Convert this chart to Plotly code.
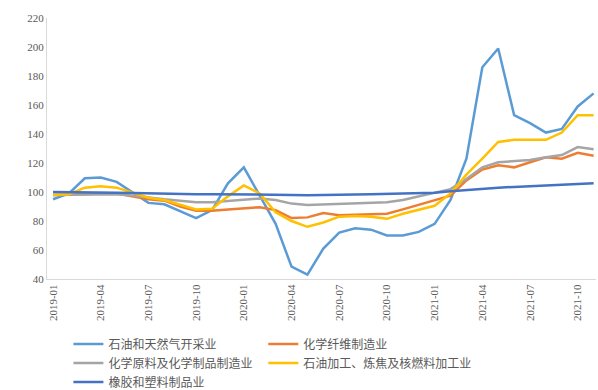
import plotly.graph_objects as go

months = [f"{y}-{m:02d}" for y in (2019, 2020, 2021) for m in range(1, 13)][:35]
tick_labels = [months[i] for i in range(0, 35, 3)]

names = ["石油和天然气开采业", "化学纤维制造业", "化学原料及化学制品制造业",
         "石油加工、炼焦及核燃料加工业", "橡胶和塑料制品业"]

oil = [95, 99, 109.5, 110, 107, 100, 92.5, 91.5, 87, 82, 87.5, 106, 117, 98, 78,
       48.5, 43, 61, 72, 75, 74, 70, 70, 72.5, 78, 94.5, 123, 186, 199, 153, 147.5,
       141, 143.5, 159, 168]
fiber = [98, 98.5, 99, 99, 99, 97, 95, 94, 90, 87, 87, 88, 89, 89.5, 87.5, 82, 82.5,
         85.5, 84, 84.5, 85, 85, 88, 91, 94, 97.5, 108, 115.5, 118.5, 117, 120.5, 124,
         123, 127, 125]
chem = [98, 98, 98, 98.5, 98.5, 97.5, 96, 95, 94, 93, 93, 94, 95, 95.5, 94.5, 92, 91,
        91.5, 92, 92.5, 92.5, 93, 94.5, 97, 99.5, 102, 109, 117, 120.5, 121, 122, 124,
        125.5, 131, 129.5]
refine = [98, 98.5, 103, 104, 103, 99.5, 96, 94.5, 91, 88, 88.5, 97, 104.5, 99, 86,
          80, 76, 79, 83, 83.5, 83, 81.5, 85, 87.5, 90.5, 99, 112, 123, 134.5, 136,
          136, 136, 141, 153, 153]
rubber = [100, 100, 99.8, 99.6, 99.5, 99.3, 99, 99, 98.8, 98.5, 98.5, 98.5, 98.5, 98.5,
          98.3, 98, 97.8, 97.8, 98.2, 98.3, 98.4, 98.6, 98.8, 99.1, 99.5, 100.5, 101.5,
          102.5, 103, 103.5, 104, 104, 104.5, 105.5, 106]

series = [oil, fiber, chem, refine, rubber]
colors = ["#5B9BD5", "#ED7D31", "#A5A5A5", "#FFC000", "#4472C4"]
legend_ids = ["legend", "legend2", "legend", "legend2", "legend"]

fig = go.Figure()
for name, vals, col, lg in zip(names, series, colors, legend_ids):
    fig.add_trace(go.Scatter(x=months, y=vals, name=name, mode="lines",
                             line=dict(color=col, width=2.5), legend=lg))

legend_font = dict(family="Noto Sans CJK SC", size=12, color="#595959")
fig.update_layout(
    width=598, height=390,
    margin=dict(l=47, r=2, t=18, b=111),
    paper_bgcolor="white", plot_bgcolor="white",
    font=dict(family="Liberation Serif, Noto Sans CJK SC", color="#595959", size=10),
    showlegend=True,
    legend=dict(orientation="v", x=0.039, y=0.155, yref="container",
                xanchor="left", yanchor="top", itemwidth=30,
                font=legend_font, tracegroupgap=0),
    legend2=dict(orientation="v", x=0.394, y=0.155, yref="container",
                 xanchor="left", yanchor="top", itemwidth=30,
                 font=legend_font, tracegroupgap=0),
)
fig.update_xaxes(type="category", range=[-0.38, 34.15], tickmode="array",
                 tickvals=tick_labels, ticktext=tick_labels, tickangle=-90,
                 showgrid=False, showline=True, linecolor="#D9D9D9", linewidth=1,
                 ticks="", automargin=False, tickfont=dict(size=11, color="#595959"))
fig.update_yaxes(range=[40, 220], dtick=20, showgrid=False, showline=True,
                 linecolor="#D9D9D9", linewidth=1, ticks="", zeroline=False,
                 automargin=False, tickfont=dict(size=11, color="#595959"))

fig.write_html("out.html")
